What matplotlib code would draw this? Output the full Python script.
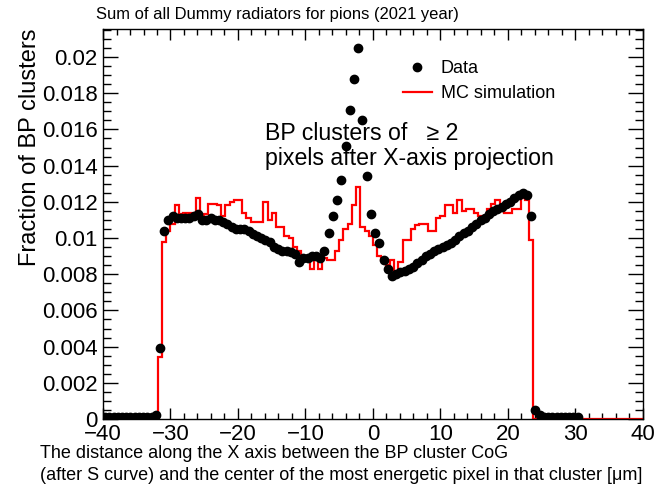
import numpy as np
import matplotlib.pyplot as plt
from matplotlib.ticker import MultipleLocator, FixedLocator, FixedFormatter

plt.rcParams['font.family'] = ['Liberation Sans', 'DejaVu Sans']

# histogram binning: 128 bins from -40 to 40 um
xlo, xhi, nbins = -40, 40, 128

# data points (fraction per bin), nan = empty bin
data = [
    0.0001, 0.0001, 0.0001, 0.0001, 0.0001, 0.0001, 0.0001, 0.0001,
    0.0001, 0.0001, 0.0001, 0.0001, 0.0002, 0.0039, 0.0104, 0.0110,
    0.0112, 0.0111, 0.0111, 0.0111, 0.0111, 0.0112, 0.0113, 0.0110,
    0.0110, 0.0111, 0.0110, 0.0110, 0.0109, 0.0108, 0.0106, 0.0105,
    0.0105, 0.0105, 0.0104, 0.0102, 0.0101, 0.0100, 0.0099, 0.0098,
    0.0095, 0.0094, 0.0093, 0.0093, 0.0092, 0.0091, 0.0087, 0.0089,
    0.0089, 0.0090, 0.0090, 0.0089, 0.0093, 0.0103, 0.0112, 0.0121,
    0.0132, 0.0151, 0.0171, 0.0188, 0.0205, 0.0165, 0.0134, 0.0113,
    0.0103, 0.0097, 0.0088, 0.0083, 0.0079, 0.0080, 0.0081, 0.0082,
    0.0083, 0.0084, 0.0086, 0.0088, 0.0090, 0.0091, 0.0093, 0.0094,
    0.0095, 0.0096, 0.0097, 0.0099, 0.0101, 0.0103, 0.0104, 0.0106,
    0.0108, 0.0110, 0.0111, 0.0113, 0.0115, 0.0116, 0.0117, 0.0119,
    0.0120, 0.0122, 0.0124, 0.0125, 0.0124, 0.0112, 0.0005, 0.0002,
    0.0001, 0.0001, 0.0001, 0.0001, 0.0001, 0.0001, 0.0001, 0.0001,
    0.0001, np.nan, np.nan, np.nan, np.nan, np.nan, np.nan, np.nan,
    np.nan, np.nan, np.nan, np.nan, np.nan, np.nan, np.nan, np.nan,
]

# MC simulation histogram
mc = [
    0, 0, 0, 0, 0, 0, 0, 0,
    0, 0, 0, 0, 0, 0.0034, 0.0098, 0.0104,
    0.0108, 0.0118, 0.0113, 0.0114, 0.0114, 0.0114, 0.0122, 0.0112,
    0.0113, 0.0119, 0.0119, 0.0118, 0.0112, 0.0118, 0.0120, 0.0121,
    0.0121, 0.0114, 0.0111, 0.0109, 0.0109, 0.0109, 0.0120, 0.0110,
    0.0114, 0.0106, 0.0106, 0.0101, 0.0100, 0.0095, 0.0093, 0.0090,
    0.0088, 0.0083, 0.0088, 0.0083, 0.0089, 0.0088, 0.0088, 0.0093,
    0.0099, 0.0105, 0.0108, 0.0118, 0.0128, 0.0106, 0.0104, 0.0101,
    0.0096, 0.0090, 0.0088, 0.0085, 0.0088, 0.0081, 0.0087, 0.0099,
    0.0099, 0.0105, 0.0107, 0.0108, 0.0108, 0.0104, 0.0104, 0.0111,
    0.0112, 0.0118, 0.0118, 0.0114, 0.0121, 0.0115, 0.0116, 0.0116,
    0.0114, 0.0112, 0.0112, 0.0116, 0.0119, 0.0121, 0.0115, 0.0114,
    0.0114, 0.0116, 0.0116, 0.0122, 0.0121, 0.0099, 0, 0,
    0, 0, 0, 0, 0, 0, 0, 0,
    0, 0, 0, 0, 0, 0, 0, 0,
    0, 0, 0, 0, 0, 0, 0, 0,
]

yticks = [0, 0.002, 0.004, 0.006, 0.008, 0.01, 0.012, 0.014, 0.016, 0.018, 0.02]
ytick_labels = ['0', '0.002', '0.004', '0.006', '0.008', '0.01',
                '0.012', '0.014', '0.016', '0.018', '0.02']

edges = np.linspace(xlo, xhi, nbins + 1)
centers = 0.5 * (edges[:-1] + edges[1:])

fig = plt.figure(figsize=(6.59, 4.88), dpi=100)
ax = fig.add_axes([0.1563, 0.1414, 0.8194, 0.7992])

ax.stairs(mc, edges, color='red', lw=1.6, baseline=None, label='MC simulation', zorder=2)
ax.plot(centers, data, 'o', color='black', ms=6, label='Data', zorder=3)

ax.set_xlim(xlo, xhi)
ax.set_ylim(0, 0.02155)

ax.xaxis.set_major_locator(MultipleLocator(10))
ax.xaxis.set_minor_locator(MultipleLocator(2))
ax.yaxis.set_major_locator(FixedLocator(yticks))
ax.yaxis.set_major_formatter(FixedFormatter(ytick_labels))
ax.yaxis.set_minor_locator(MultipleLocator(0.0005))

ax.tick_params(which='both', direction='in', top=True, right=True, width=1, labelsize=16)
ax.tick_params(axis='y', which='major', length=11, pad=4)
ax.tick_params(axis='y', which='minor', length=5.5)
ax.tick_params(axis='x', which='major', length=8, pad=3.5)
ax.tick_params(axis='x', which='minor', length=4)
for s in ax.spines.values():
    s.set_linewidth(1)

h, l = ax.get_legend_handles_labels()
ax.legend(h[::-1], l[::-1], loc='upper left', bbox_to_anchor=(0.555, 0.92),
          frameon=False, fontsize=13, handlelength=1.6, handletextpad=0.5,
          labelspacing=0.45, borderpad=0, borderaxespad=0)

ax.text(0.30, 0.70, 'BP clusters of   \u2265 2\npixels after X-axis projection',
        transform=ax.transAxes, fontsize=16.7, va='center', ha='left', linespacing=1.12)

fig.text(96 / 659, 1 - 15 / 488, 'Sum of all Dummy radiators for pions (2021 year)',
         fontsize=11.9, va='center', ha='left')
fig.text(30 / 659, 1 - 28 / 488, 'Fraction of BP clusters', rotation=90,
         fontsize=17, va='top', ha='center')
fig.text(40 / 659, 1 - 453 / 488, 'The distance along the X axis between the BP cluster CoG',
         fontsize=13, va='center', ha='left')
fig.text(40 / 659, 1 - 476 / 488,
         '(after S curve) and the center of the most energetic pixel in that cluster [\u03bcm]',
         fontsize=13, va='center', ha='left')

fig.savefig('out.png', dpi=100)
